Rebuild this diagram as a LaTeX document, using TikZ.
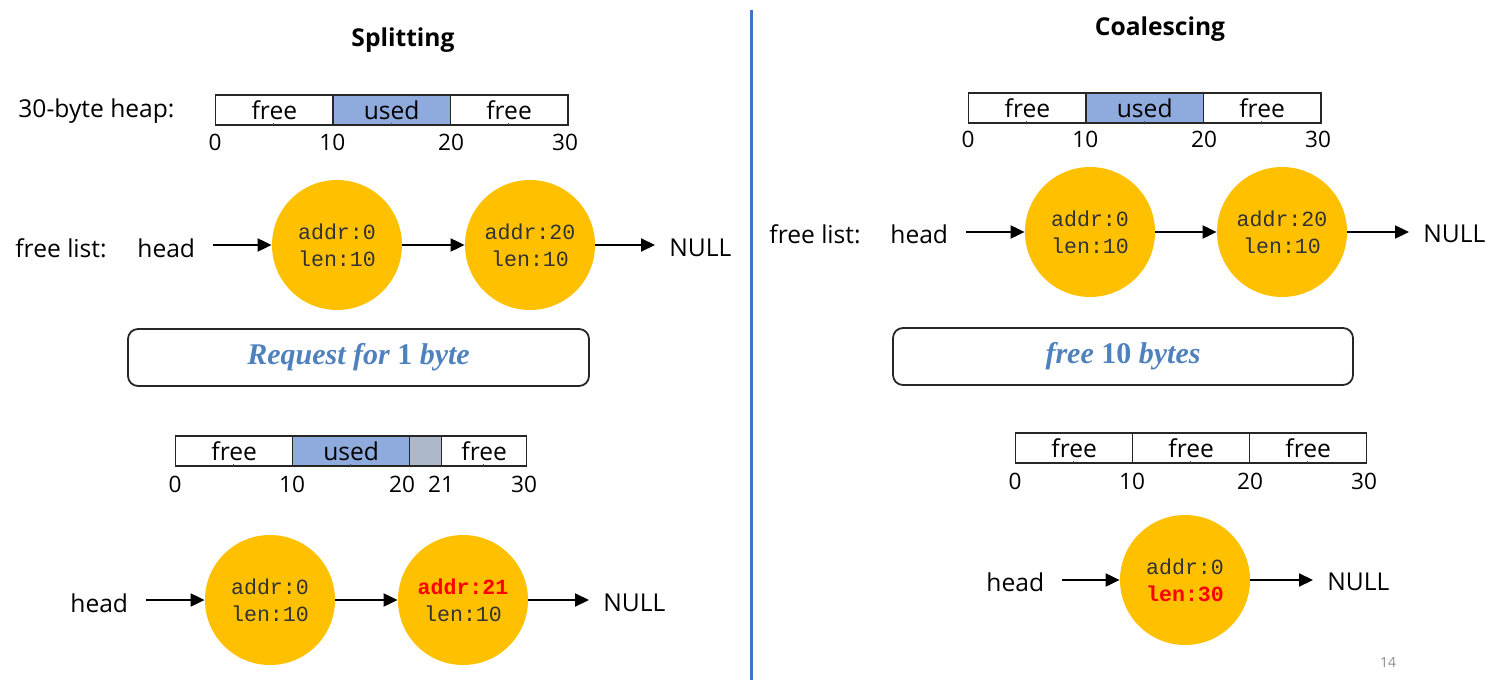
\documentclass[tikz,border=0pt]{standalone}
\usepackage{fontspec}
\setmainfont{Open Sans}
\newfontfamily\monof{Liberation Mono}
\newfontfamily\boxf{Liberation Serif}
\usetikzlibrary{arrows.meta}
\definecolor{usedc}{HTML}{8FAADC}
\definecolor{grayc}{HTML}{ADB9CA}
\definecolor{nodec}{HTML}{FFC000}
\definecolor{boxtxt}{HTML}{4F81BD}
\definecolor{divc}{HTML}{4472C4}
\definecolor{ctxt}{HTML}{333333}
\definecolor{redc}{HTML}{FF0000}
\definecolor{pgc}{HTML}{8C8C8C}
\tikzset{
  lbl/.style={font=\fontsize{12.3pt}{14pt}\selectfont, inner sep=0pt},
  ttl/.style={font=\fontsize{12.3pt}{14pt}\selectfont\bfseries, inner sep=0pt},
  cell/.style={draw=black!85, line width=0.7pt, minimum height=15pt, inner sep=0pt, anchor=west,
    font=\fontsize{12.3pt}{14pt}\selectfont},
  num/.style={font=\fontsize{11.3pt}{13pt}\selectfont, inner sep=0pt},
  lnode/.style={circle, fill=nodec, minimum size=65pt, inner sep=0pt, align=center,
    font=\monof\fontsize{10.8pt}{13.5pt}\selectfont, text=ctxt},
  arr/.style={line width=1pt, -{Triangle[length=7pt,width=6.5pt]}},
  rbox/.style={draw=black!85, line width=0.9pt, rounded corners=5pt, inner sep=0pt,
    font=\boxf\fontsize{15pt}{17pt}\selectfont\bfseries, text=boxtxt},
  tick/.style={line width=0.5pt, draw=black!70},
}
\begin{document}
\begin{tikzpicture}[x=0.5pt,y=-0.5pt]
\useasboundingbox (0,0) rectangle (1502,684);
% divider
\draw[divc, line width=1.5pt] (751,10) -- (751,680);

% ================= LEFT: Splitting =================
\node[ttl] (t1) at (403,40) {Splitting};
\node[lbl, anchor=west] (heaplbl) at (18,111) {30-byte heap:};
\node[cell, minimum width=58.7pt] (a1) at (215,110) {free};
\node[cell, minimum width=58.7pt, fill=usedc] (a2) at (332.3,110) {used};
\node[cell, minimum width=58.7pt] (a3) at (449.7,110) {free};
\foreach \x in {273.7,391,508.3} \draw[tick] (\x,125) -- (\x,123);
\node[num] (a0n) at (215,142) {0};
\node[num] (a10n) at (332.3,142) {10};
\node[num] (a20n) at (451,142) {20};
\node[num] (a30n) at (565,142) {30};

\node[lbl, anchor=west] (fl1) at (15,248) {free list:};
\node[lbl, anchor=west] (h1) at (137,248) {head};
\node[lnode] (n1) at (337,245) {addr:0\\len:10};
\node[lnode] (n2) at (530,245) {addr:20\\len:10};
\node[lbl, anchor=west] (null1) at (669,248) {NULL};
\draw[arr] ([xshift=9pt]h1.east |- n1.west) -- (n1.west);
\draw[arr] (n1.east) -- (n2.west);
\draw[arr] (n2.east) -- ([xshift=-7pt]null1.west |- n2.east);

\node[rbox, minimum width=230.5pt, minimum height=28.5pt] (req) at (358.5,357.5)
  {\itshape Request for \upshape 1 \itshape byte};

\node[cell, minimum width=58.5pt] (b1) at (175,451) {free};
\node[cell, minimum width=58.5pt, fill=usedc] (b2) at (292,451) {used};
\node[cell, minimum width=16pt, fill=grayc] (b3) at (409,451) {};
\node[cell, minimum width=42.5pt] (b4) at (441,451) {free};
\foreach \x in {233.5,350.5,483.5} \draw[tick] (\x,466) -- (\x,464);
\node[num] (b0n) at (175,484) {0};
\node[num] (b10n) at (292,484) {10};
\node[num] (b20n) at (402,484) {20};
\node[num] (b21n) at (441,484) {21};
\node[num] (b30n) at (524,484) {30};

\node[lbl, anchor=west] (h2) at (70,603) {head};
\node[lnode] (n3) at (270,600) {addr:0\\len:10};
\node[lnode] (n4) at (463,600) {\textcolor{redc}{\bfseries addr:21}\\len:10};
\node[lbl, anchor=west] (null2) at (603,603) {NULL};
\draw[arr] ([xshift=9pt]h2.east |- n3.west) -- (n3.west);
\draw[arr] (n3.east) -- (n4.west);
\draw[arr] (n4.east) -- ([xshift=-7pt]null2.west |- n4.east);

% ================= RIGHT: Coalescing =================
\node[ttl] (t2) at (1160,29) {Coalescing};
\node[cell, minimum width=58.7pt] (c1) at (968,108) {free};
\node[cell, minimum width=58.7pt, fill=usedc] (c2) at (1085.3,108) {used};
\node[cell, minimum width=58.7pt] (c3) at (1202.7,108) {free};
\foreach \x in {1026.7,1144,1261.3} \draw[tick] (\x,123) -- (\x,121);
\node[num] (c0n) at (968,139) {0};
\node[num] (c10n) at (1085.3,139) {10};
\node[num] (c20n) at (1204,139) {20};
\node[num] (c30n) at (1318,139) {30};

\node[lbl, anchor=west] (fl2) at (769,234) {free list:};
\node[lbl, anchor=west] (h3) at (890,234) {head};
\node[lnode] (n5) at (1090,232) {addr:0\\len:10};
\node[lnode] (n6) at (1282,232) {addr:20\\len:10};
\node[lbl, anchor=west] (null3) at (1423,234) {NULL};
\draw[arr] ([xshift=9pt]h3.east |- n5.west) -- (n5.west);
\draw[arr] (n5.east) -- (n6.west);
\draw[arr] (n6.east) -- ([xshift=-7pt]null3.west |- n6.east);

\node[rbox, minimum width=230pt, minimum height=28.5pt] (frb) at (1123,356.5)
  {\itshape free \upshape 10 \itshape bytes};

\node[cell, minimum width=58.5pt] (d1) at (1015,448) {free};
\node[cell, minimum width=58.5pt] (d2) at (1132,448) {free};
\node[cell, minimum width=58.5pt] (d3) at (1249,448) {free};
\foreach \x in {1073.5,1190.5,1307.5} \draw[tick] (\x,463) -- (\x,461);
\node[num] (d0n) at (1015,481) {0};
\node[num] (d10n) at (1132,481) {10};
\node[num] (d20n) at (1250,481) {20};
\node[num] (d30n) at (1364,481) {30};

\node[lbl, anchor=west] (h4) at (986,582) {head};
\node[lnode] (n7) at (1185,580) {addr:0\\\textcolor{redc}{\bfseries len:30}};
\node[lbl, anchor=west] (null4) at (1327,582) {NULL};
\draw[arr] ([xshift=9pt]h4.east |- n7.west) -- (n7.west);
\draw[arr] (n7.east) -- ([xshift=-7pt]null4.west |- n7.east);

\node[font=\fontsize{7pt}{8pt}\selectfont, text=pgc, inner sep=0pt] (pg) at (1388,662) {14};
\end{tikzpicture}
\end{document}
